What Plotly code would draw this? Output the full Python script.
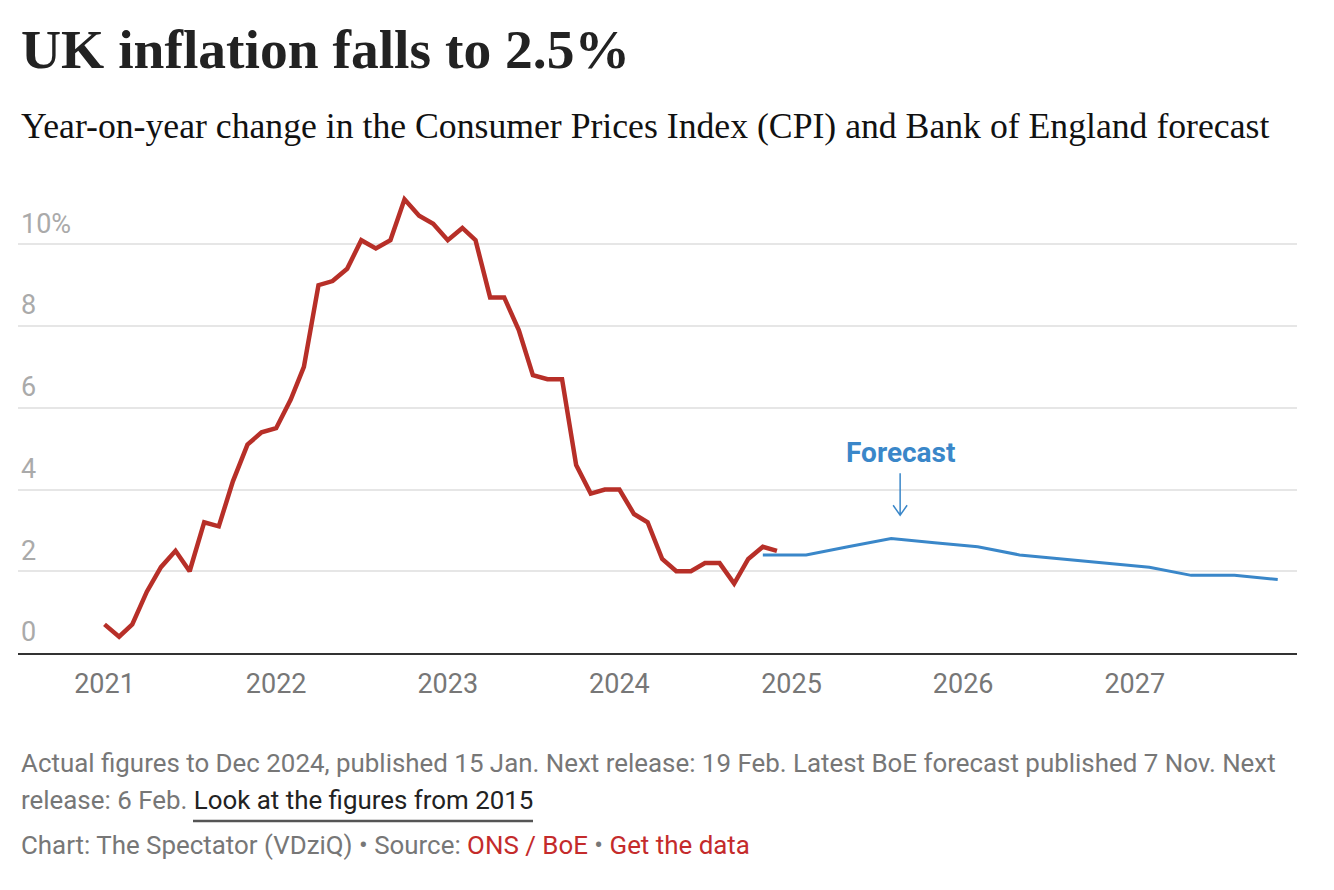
import plotly.graph_objects as go

# ---- data ----
cpi_months = [f"{y}-{m:02d}-01" for y in range(2021, 2025) for m in range(1, 13)]
cpi_values = [0.7, 0.4, 0.7, 1.5, 2.1, 2.5, 2.0, 3.2, 3.1, 4.2, 5.1, 5.4,
              5.5, 6.2, 7.0, 9.0, 9.1, 9.4, 10.1, 9.9, 10.1, 11.1, 10.7, 10.5,
              10.1, 10.4, 10.1, 8.7, 8.7, 7.9, 6.8, 6.7, 6.7, 4.6, 3.9, 4.0,
              4.0, 3.4, 3.2, 2.3, 2.0, 2.0, 2.2, 2.2, 1.7, 2.3, 2.6, 2.5]

forecast_dates = ["2024-11-01", "2025-02-01", "2025-05-01", "2025-08-01", "2025-11-01",
                  "2026-02-01", "2026-05-01", "2026-08-01", "2026-11-01",
                  "2027-02-01", "2027-05-01", "2027-08-01", "2027-11-01"]
forecast_values = [2.4, 2.4, 2.6, 2.8, 2.7, 2.6, 2.4, 2.3, 2.2, 2.1, 1.9, 1.9, 1.8]

y_tickvals = [0, 2, 4, 6, 8, 10]
y_ticktext = ["0", "2", "4", "6", "8", "10%"]
x_tickvals = ["2021-01-01", "2022-01-01", "2023-01-01", "2024-01-01",
              "2025-01-01", "2026-01-01", "2027-01-01"]
x_ticktext = ["2021", "2022", "2023", "2024", "2025", "2026", "2027"]

RED = "#b72f28"
BLUE = "#3a87c9"

fig = go.Figure()
fig.add_trace(go.Scatter(x=forecast_dates, y=forecast_values, mode="lines",
                         line=dict(color=BLUE, width=3), hoverinfo="skip"))
fig.add_trace(go.Scatter(x=cpi_months, y=cpi_values, mode="lines",
                         line=dict(color=RED, width=4.5), hoverinfo="skip"))

OFF = 8  # page body margin
W, H = 1334 - OFF, 890 - OFF
ml, mr, mt, mb = 18 - OFF, 37, 183 - OFF, 237
ph = H - mt - mb
pw = W - ml - mr

def py(page_y):
    return (H - mb - (page_y - OFF)) / ph

def px(page_x):
    return (page_x - OFF - ml) / pw

fig.update_layout(
    width=W, height=H,
    margin=dict(l=ml, r=mr, t=mt, b=mb, autoexpand=False),
    paper_bgcolor="white", plot_bgcolor="white",
    showlegend=False,
    font=dict(family="Roboto", color="#777"),
    xaxis=dict(range=["2020-07-01", "2027-12-12"], tickvals=x_tickvals, ticktext=x_ticktext,
               showgrid=False, zeroline=False, showline=True, linecolor="#333", linewidth=2,
               ticks="", tickfont=dict(size=27, color="#777"), ticklabelstandoff=6),
    yaxis=dict(range=[0, 11.5], tickvals=y_tickvals, ticktext=y_ticktext,
               showgrid=True, gridcolor="#e6e6e6", gridwidth=1.5, zeroline=False,
               ticks="", ticklabelposition="inside", ticklabelshift=-21,
               ticklabelstandoff=0,
               tickfont=dict(size=27, color="#aaa")),
)

anns = []
anns.append(dict(text="<b>UK inflation falls to 2.5%</b>", xref="paper", yref="paper",
                 x=px(19), y=py(82), xanchor="left", yanchor="bottom", showarrow=False,
                 font=dict(family="Liberation Serif", size=55.5, color="#222")))
anns.append(dict(text="Year-on-year change in the Consumer Prices Index (CPI) and Bank of England forecast",
                 xref="paper", yref="paper", x=px(19), y=py(148), xanchor="left", yanchor="bottom",
                 showarrow=False, font=dict(family="Liberation Serif", size=35.7, color="#111")))
anns.append(dict(text="<b>Forecast</b>", x="2025-08-20", y=4.9, xanchor="center", yanchor="middle",
                 showarrow=False, font=dict(family="Roboto", size=28, color=BLUE)))
anns.append(dict(text="Actual figures to Dec 2024, published 15 Jan. Next release: 19 Feb. Latest BoE forecast published 7 Nov. Next",
                 xref="paper", yref="paper", x=px(19), y=py(763), xanchor="left", yanchor="middle",
                 showarrow=False, font=dict(family="Roboto", size=25.9, color="#777")))
anns.append(dict(text="release: 6 Feb. <span style='color:#222'>Look at the figures from 2015</span>",
                 xref="paper", yref="paper", x=px(19), y=py(800), xanchor="left", yanchor="middle",
                 showarrow=False, font=dict(family="Roboto", size=25.9, color="#777")))
anns.append(dict(text="Chart: The Spectator (VDziQ) • Source: <span style='color:#c42b2b'>ONS / BoE</span> • <span style='color:#c42b2b'>Get the data</span>",
                 xref="paper", yref="paper", x=px(19), y=py(845), xanchor="left", yanchor="middle",
                 showarrow=False, font=dict(family="Roboto", size=25.9, color="#777")))
fig.update_layout(annotations=anns)

shapes = []
# arrow for forecast label
shapes.append(dict(type="path", xref="x", yref="y", xsizemode="pixel", ysizemode="pixel",
                   xanchor="2025-08-20", yanchor=3.37,
                   path="M0,0 L0,42 M-7,10 L0,0 L7,10",
                   line=dict(color=BLUE, width=1.5)))
# underline for link
shapes.append(dict(type="line", xref="paper", yref="paper", x0=px(193), x1=px(533),
                   y0=py(821), y1=py(821), line=dict(color="#555", width=2.5)))
fig.update_layout(shapes=shapes)

fig.write_html("out.html")
